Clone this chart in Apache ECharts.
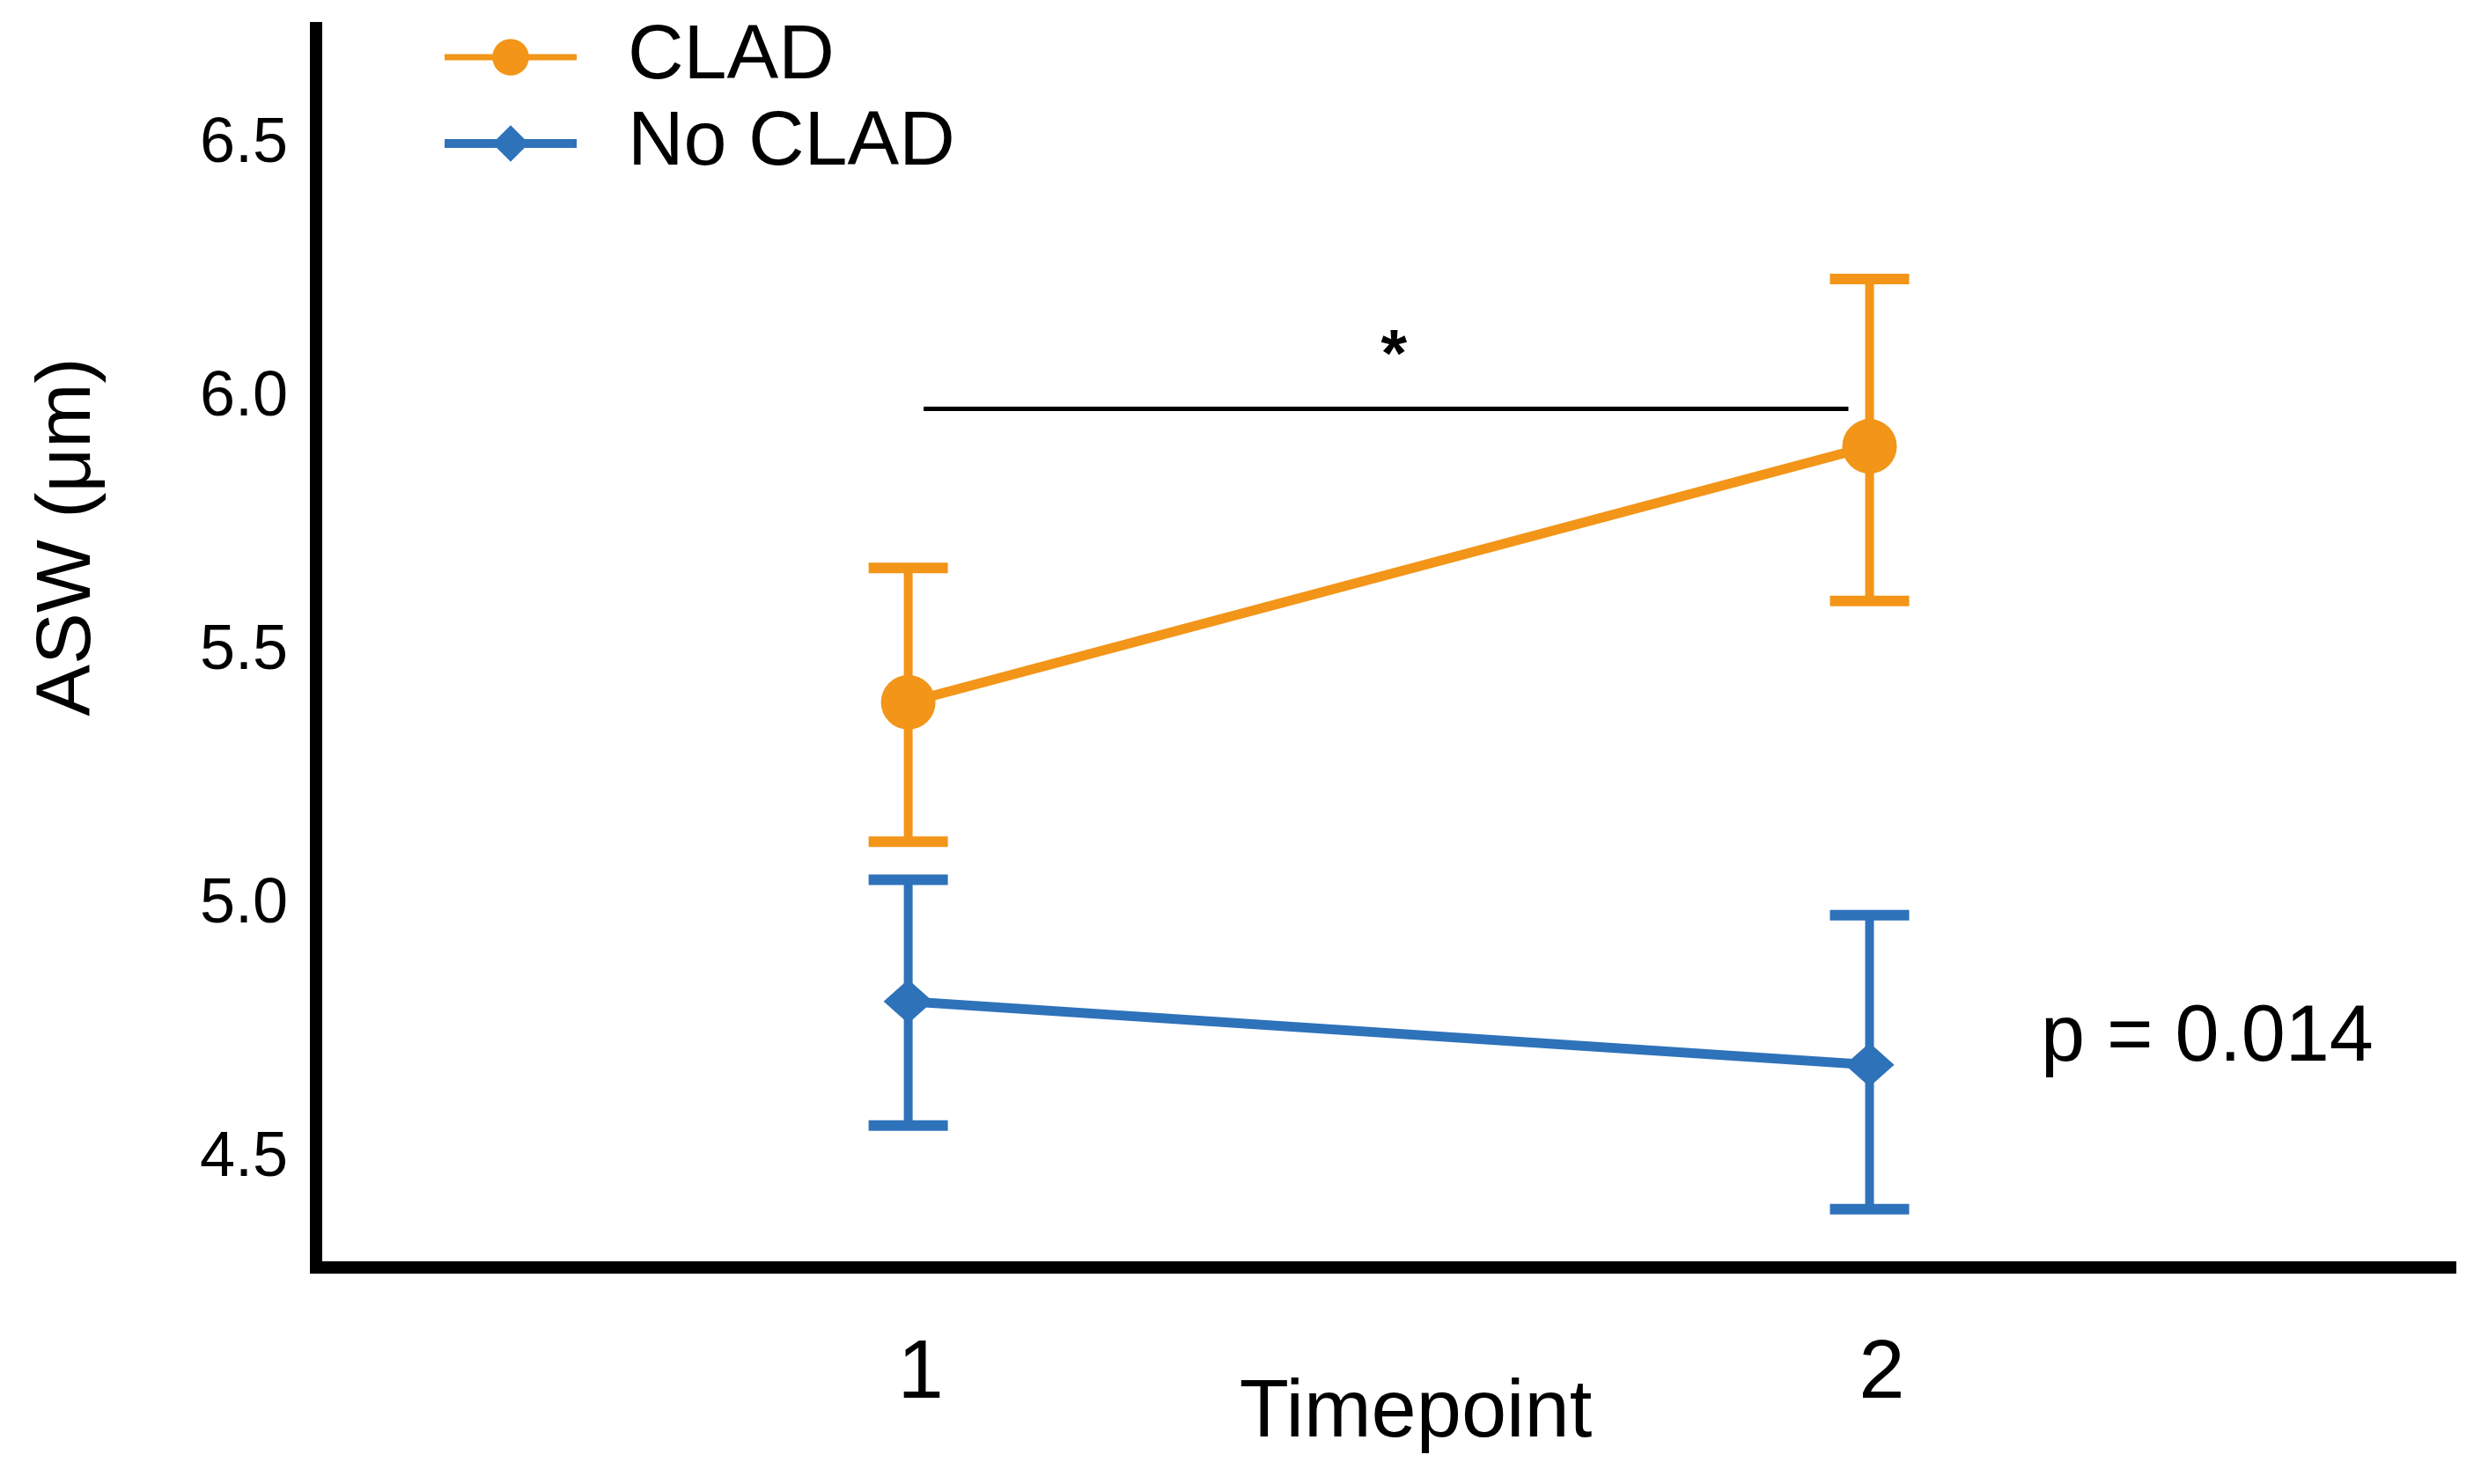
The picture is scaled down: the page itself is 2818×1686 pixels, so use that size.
<!DOCTYPE html>
<html>
<head>
<meta charset="utf-8">
<script src="https://cdn.jsdelivr.net/npm/echarts@6/dist/echarts.min.js"></script>
<style>html,body{margin:0;padding:0;background:#fff}#c{width:2818px;height:1686px}</style>
</head>
<body>
<div id="c"></div>
<script>
const timepoints = [1, 2];
const cladMean = [5.40, 5.905];
const cladUpper = [5.665, 6.235];
const cladLower = [5.125, 5.60];
const noCladMean = [4.81, 4.685];
const noCladUpper = [5.05, 4.98];
const noCladLower = [4.565, 4.40];
const yTickValues = [4.5, 5.0, 5.5, 6.0, 6.5];
const xTickValues = [1, 2];
const sigBarX = [1.016, 1.978];
const sigBarY = 5.98;
const pText = 'p = 0.014';

const ORANGE = '#F29518';
const BLUE = '#2E72BA';
const FONT = 'Liberation Sans';

const chart = echarts.init(document.getElementById('c'));

function errRender(color) {
  return function (params, api) {
    const x = api.value(0), lo = api.value(1), hi = api.value(2);
    const pHi = api.coord([x, hi]);
    const pLo = api.coord([x, lo]);
    const half = 45;
    return {
      type: 'group',
      children: [
        { type: 'line', shape: { x1: pHi[0], y1: pHi[1], x2: pLo[0], y2: pLo[1] }, style: { stroke: color, lineWidth: 10 } },
        { type: 'line', shape: { x1: pHi[0] - half, y1: pHi[1], x2: pHi[0] + half, y2: pHi[1] }, style: { stroke: color, lineWidth: 12 } },
        { type: 'line', shape: { x1: pLo[0] - half, y1: pLo[1], x2: pLo[0] + half, y2: pLo[1] }, style: { stroke: color, lineWidth: 12 } }
      ]
    };
  };
}

const option = {
  backgroundColor: '#fff',
  animation: false,
  grid: { left: 359, right: 35, top: 32, bottom: 246, containLabel: false },
  legend: {
    orient: 'vertical',
    left: 500,
    top: 21,
    padding: 0,
    itemWidth: 150,
    itemHeight: 52,
    itemGap: 10,
    data: [
      { name: 'CLAD', lineStyle: { width: 7 } },
      { name: 'No CLAD', lineStyle: { width: 10 } }
    ],
    textStyle: { fontFamily: FONT, fontSize: 88, color: '#000', lineHeight: 88, padding: [0, 0, 0, 53] }
  },
  xAxis: {
    type: 'value',
    min: 0.384,
    max: 2.604,
    splitLine: { show: false },
    axisTick: { show: false },
    axisLine: { show: true, lineStyle: { color: '#000', width: 14, cap: 'square' } },
    axisLabel: {
      customValues: xTickValues,
      formatter: v => String(v),
      fontFamily: FONT, fontSize: 94, color: '#000', margin: 75,
      padding: [0, 0, 0, 28]
    },
    name: 'Timepoint',
    nameLocation: 'middle',
    nameGap: 121,
    nameMoveOverlap: false,
    nameTextStyle: { fontFamily: FONT, fontSize: 92, color: '#000', padding: [0, 0, 0, 74] }
  },
  yAxis: {
    type: 'value',
    min: 4.285,
    max: 6.73,
    splitLine: { show: false },
    axisTick: { show: false },
    axisLine: { show: true, lineStyle: { color: '#000', width: 14, cap: 'square' } },
    axisLabel: {
      customValues: yTickValues,
      formatter: v => v.toFixed(1),
      fontFamily: FONT, fontSize: 72, color: '#000', margin: 32
    }
  },
  graphic: [
    {
      type: 'text', x: 78, y: 610, rotation: Math.PI / 2,
      style: { text: 'ASW (μm)', fontFamily: FONT, fontSize: 88, fill: '#000', align: 'center', verticalAlign: 'middle' }
    },
    {
      type: 'text', x: 2318, y: 1180,
      style: { text: pText, fontFamily: FONT, fontSize: 90, fill: '#000', align: 'left', verticalAlign: 'middle' }
    }
  ],
  series: [
    {
      name: 'CLAD err', type: 'custom', renderItem: errRender(ORANGE), z: 2,
      data: timepoints.map((t, i) => [t, cladLower[i], cladUpper[i]])
    },
    {
      name: 'No CLAD err', type: 'custom', renderItem: errRender(BLUE), z: 2,
      data: timepoints.map((t, i) => [t, noCladLower[i], noCladUpper[i]])
    },
    {
      name: 'CLAD', type: 'line', z: 3,
      data: timepoints.map((t, i) => [t, cladMean[i]]),
      symbol: 'circle', symbolSize: 62,
      lineStyle: { color: ORANGE, width: 11 },
      itemStyle: { color: ORANGE },
      markLine: {
        silent: true,
        symbol: 'none',
        lineStyle: { color: '#000', width: 5, type: 'solid' },
        label: { show: true, position: 'middle', formatter: '*', fontFamily: FONT, fontSize: 76, fontWeight: 'bold', color: '#000', distance: 20, offset: [9, 0] },
        data: [[{ coord: [sigBarX[0], sigBarY] }, { coord: [sigBarX[1], sigBarY] }]]
      }
    },
    {
      name: 'No CLAD', type: 'line', z: 3,
      data: timepoints.map((t, i) => [t, noCladMean[i]]),
      symbol: 'diamond', symbolSize: [56, 50],
      lineStyle: { color: BLUE, width: 11 },
      itemStyle: { color: BLUE }
    }
  ]
};
chart.setOption(option);
</script>
</body>
</html>
